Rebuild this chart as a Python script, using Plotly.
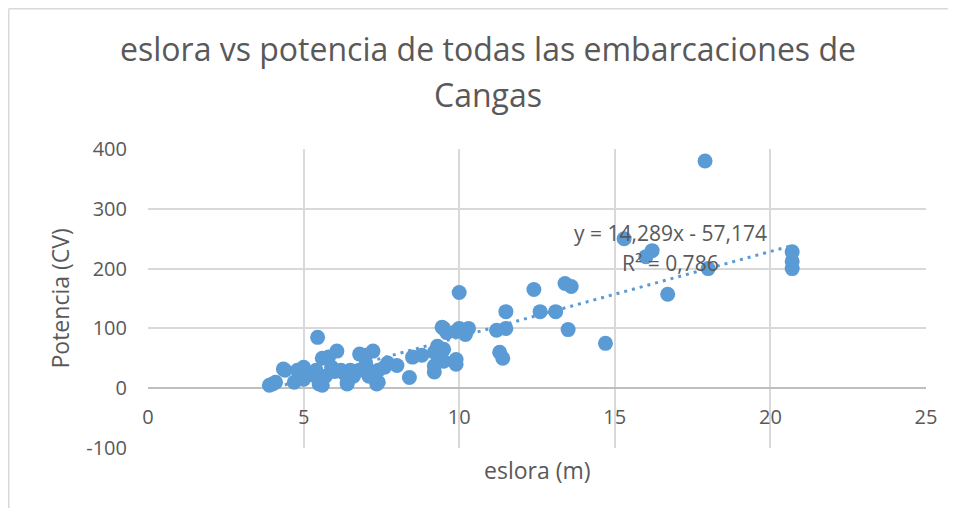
import plotly.graph_objects as go

# Data
eslora = [3.9, 4.0, 4.1, 4.35, 4.4, 4.7, 4.8, 5.0, 5.0, 5.1, 5.3, 5.4, 5.45, 5.5, 5.6, 5.6,
          5.7, 5.8, 5.9, 6.0, 6.07, 6.2, 6.3, 6.4, 6.4, 6.5, 6.6, 6.8, 6.8, 7.0, 7.0, 7.1,
          7.23, 7.35, 7.4, 7.4, 7.6, 7.7, 8.0, 8.4, 8.5, 8.8,
          9.2, 9.2, 9.2, 9.3, 9.35, 9.45, 9.5, 9.5, 9.5, 9.6, 9.9, 9.9, 9.9, 10.0, 10.0,
          10.2, 10.3, 11.2, 11.5, 11.3, 11.4, 11.5, 12.4, 12.6, 13.1, 13.4, 13.6, 13.5,
          14.7, 15.3, 16.0, 16.2, 16.7, 17.9, 18.0, 20.7, 20.7, 20.7]
potencia = [5, 7, 10, 32, 30, 10, 30, 35, 15, 25, 22, 30, 85, 7, 50, 5,
            20, 52, 35, 28, 62, 30, 25, 10, 7, 30, 20, 57, 30, 40, 55, 20,
            62, 7, 10, 30, 35, 42, 38, 18, 52, 55,
            27, 37, 60, 70, 52, 102, 45, 65, 100, 93, 95, 48, 40, 100, 160,
            90, 100, 97, 100, 60, 50, 128, 165, 128, 128, 175, 170, 98,
            75, 250, 220, 230, 157, 380, 200, 228, 212, 200]

# Linear trendline reported on the chart
slope = 14.289
intercept = -57.174
eq_text = "y = 14,289x - 57,174"
r2_text = "R² = 0,786"

x_ticks = [0, 5, 10, 15, 20, 25]
y_ticks = [-100, 0, 100, 200, 300, 400]

blue = "#5b9bd5"
grey_text = "#595959"
grid = "#d9d9d9"
FONT = "Open Sans"

W, H = 940, 500
L, R, T, B = 140, 918, 141, 440   # plot-area edges in figure pixels
PW, PH = R - L, B - T


def px(xf):
    return (xf - L) / PW


def py(yf):
    return (B - yf) / PH


x_min, x_max = min(eslora), max(eslora)
trend_x = [x_min, x_max]
trend_y = [slope * v + intercept for v in trend_x]

fig = go.Figure()
fig.add_trace(go.Scatter(
    x=trend_x, y=trend_y, mode="lines",
    line=dict(color=blue, width=3, dash="3px,5px"),
    hoverinfo="skip", showlegend=False))
fig.add_trace(go.Scatter(
    x=eslora, y=potencia, mode="markers",
    marker=dict(color=blue, size=15, line=dict(width=0)),
    showlegend=False))

fig.update_layout(
    width=W, height=H,
    margin=dict(l=L, r=W - R, t=T, b=H - B),
    paper_bgcolor="white", plot_bgcolor="white",
    font=dict(family=FONT, color=grey_text),
    title=dict(text="eslora vs potencia de todas las embarcaciones de",
               x=480 / W, xref="container", xanchor="center",
               y=1 - 42 / H, yref="container", yanchor="middle",
               font=dict(family=FONT, size=32, color=grey_text)),
    xaxis=dict(range=[0, 25], tickvals=x_ticks, ticktext=[str(v) for v in x_ticks],
               showgrid=True, gridcolor=grid, gridwidth=1.5,
               zeroline=False, showline=False,
               anchor="free", position=py(381),
               ticks="", ticklabelstandoff=14,
               tickfont=dict(family=FONT, size=20, color=grey_text)),
    yaxis=dict(range=[-100, 400], tickvals=y_ticks, ticktext=[str(v) for v in y_ticks],
               showgrid=True, gridcolor=grid, gridwidth=1.5,
               zeroline=True, zerolinecolor="#bfbfbf", zerolinewidth=2,
               showline=False, ticks="", ticklabelstandoff=20,
               tickfont=dict(family=FONT, size=20, color=grey_text)),
)

fig.add_annotation(text="Cangas", xref="paper", yref="paper",
                   x=px(480), y=py(87),
                   xanchor="center", yanchor="middle", showarrow=False,
                   font=dict(family=FONT, size=32, color=grey_text))
fig.add_annotation(text="eslora (m)", xref="paper", yref="paper",
                   x=0.5, y=py(462), xanchor="center", yanchor="middle",
                   showarrow=False, font=dict(family=FONT, size=23, color=grey_text))
fig.add_annotation(text="Potencia (CV)", xref="paper", yref="paper",
                   x=px(51), y=0.5, xanchor="center", yanchor="middle",
                   textangle=-90, showarrow=False,
                   font=dict(family=FONT, size=23, color=grey_text))
fig.add_annotation(text=eq_text, xref="paper", yref="paper",
                   x=px(662), y=py(225),
                   xanchor="center", yanchor="middle", showarrow=False,
                   font=dict(family=FONT, size=21, color=grey_text))
fig.add_annotation(text=r2_text, xref="paper", yref="paper",
                   x=px(662), y=py(255),
                   xanchor="center", yanchor="middle", showarrow=False,
                   font=dict(family=FONT, size=21, color=grey_text))

# chart-area border (left and top edges visible in the reference)
fig.add_shape(type="line", xref="paper", yref="paper",
              x0=px(0.75), x1=px(0.75), y0=py(0.75), y1=py(H + 10),
              line=dict(color=grid, width=1.5))
fig.add_shape(type="line", xref="paper", yref="paper",
              x0=px(0.75), x1=px(W + 10), y0=py(0.75), y1=py(0.75),
              line=dict(color=grid, width=1.5))

fig.write_html("out.html")
